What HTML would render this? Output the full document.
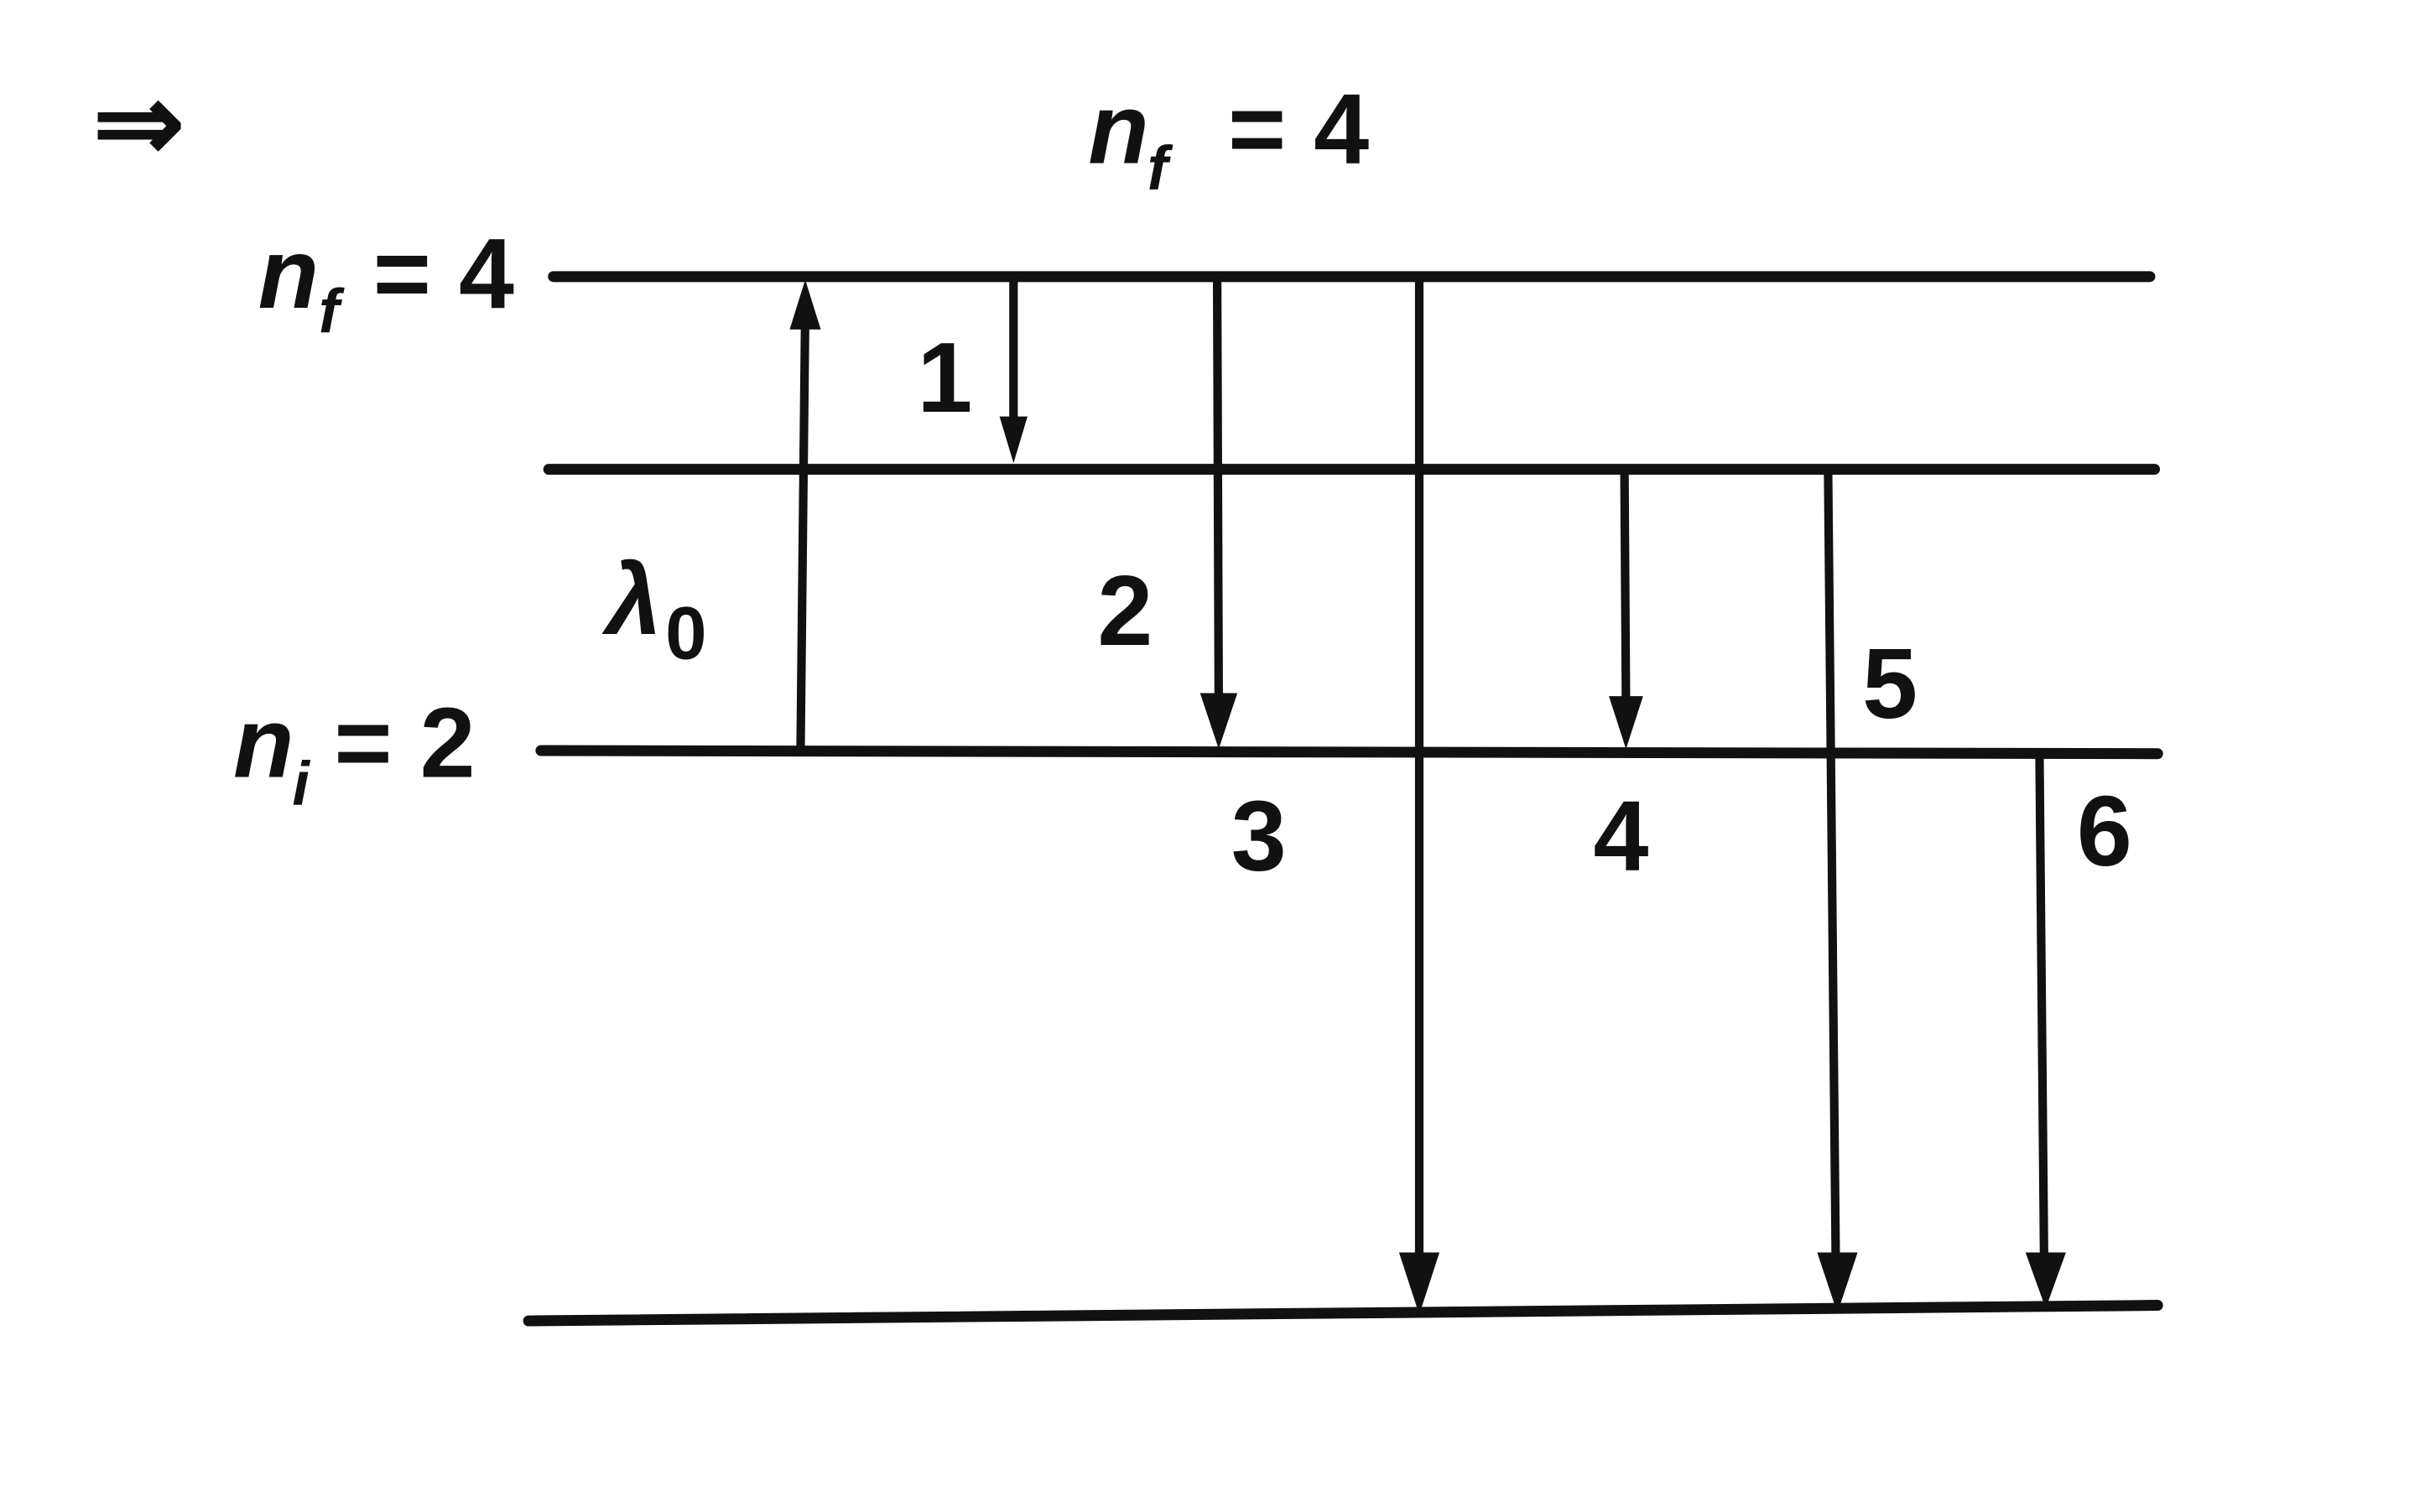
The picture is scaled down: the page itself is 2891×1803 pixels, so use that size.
<!DOCTYPE html>
<html><head><meta charset="utf-8"><style>
html,body{margin:0;padding:0;background:#fff;}
svg{display:block;}
text{font-family:"Liberation Sans",sans-serif;font-weight:bold;fill:#111;}
</style></head><body>
<svg width="2891" height="1803" viewBox="0 0 1560 973" preserveAspectRatio="none">
<g stroke="#111" stroke-linecap="round" fill="none">
<line x1="356" y1="178" x2="1383" y2="178" stroke-width="7"/>
<line x1="353" y1="302" x2="1386" y2="302" stroke-width="7"/>
<line x1="348" y1="483" x2="1388" y2="485" stroke-width="7"/>
<line x1="340" y1="850" x2="1388" y2="840" stroke-width="7"/>
<g stroke-width="5.5">
<line x1="515" y1="483" x2="518" y2="200"/>
<line x1="652" y1="178" x2="652" y2="275"/>
<line x1="783" y1="178" x2="784" y2="455"/>
<line x1="913" y1="178" x2="913" y2="818"/>
<line x1="1045" y1="302" x2="1046" y2="455"/>
<line x1="1176" y1="302" x2="1181" y2="818"/>
<line x1="1312" y1="485" x2="1315" y2="815"/>
</g>
</g>
<g fill="#111">
<polygon points="518,180 508,212 528,212"/>
<polygon points="652,298 643,268 661,268"/>
<polygon points="784,482 772,446 796,446"/>
<polygon points="913,846 900,806 926,806"/>
<polygon points="1046,482 1035,448 1057,448"/>
<polygon points="1182,845 1169,806 1195,806"/>
<polygon points="1316,842 1303,806 1329,806"/>
</g>
<text x="60" y="103" font-size="70">⇒</text>
<text x="700" y="105" font-size="64" font-style="italic">n</text>
<text x="738" y="122" font-size="40" font-style="italic">f</text>
<text x="790" y="105" font-size="64">= 4</text>
<text x="166" y="198" font-size="64" font-style="italic">n</text>
<text x="205" y="214" font-size="40" font-style="italic">f</text>
<text x="240" y="198" font-size="64">= 4</text>
<text x="590" y="265" font-size="64">1</text>
<text x="390" y="408" font-size="64" font-style="italic">λ</text>
<text x="428" y="424" font-size="48">0</text>
<text x="706" y="415" font-size="64">2</text>
<text x="150" y="500" font-size="64" font-style="italic">n</text>
<text x="188" y="518" font-size="40" font-style="italic">i</text>
<text x="215" y="500" font-size="64">= 2</text>
<text x="1198" y="462" font-size="64">5</text>
<text x="792" y="560" font-size="64">3</text>
<text x="1025" y="560" font-size="64">4</text>
<text x="1336" y="557" font-size="64">6</text>
</svg>
</body></html>
